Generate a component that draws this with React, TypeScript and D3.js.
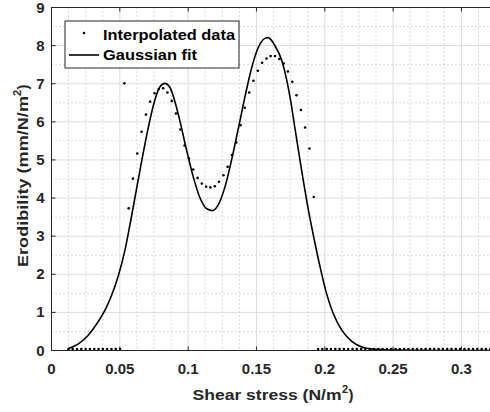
import React from 'react';
import * as d3 from 'd3';

// Interpolated data (scatter points)
const dataX = [
  0.0124, 0.0155, 0.0187, 0.0218, 0.025, 0.0281, 0.0313, 0.0344, 0.0376, 0.0407, 0.0439, 0.047, 0.0502,
  0.0533, 0.0565, 0.0596, 0.0628, 0.0659, 0.0691, 0.0722, 0.0754, 0.0785, 0.0817, 0.0848, 0.088, 0.0911,
  0.0943, 0.0974, 0.1006, 0.1037, 0.1069, 0.11, 0.1132, 0.1163, 0.1195, 0.1226, 0.1258, 0.1289, 0.1321,
  0.1352, 0.1384, 0.1415, 0.1447, 0.1478, 0.151, 0.1541, 0.1573, 0.1604, 0.1636, 0.1667, 0.1699, 0.173,
  0.1762, 0.1793, 0.1825, 0.1856, 0.1888, 0.1919,
  0.1951, 0.1982, 0.2014, 0.2045, 0.2077, 0.2108, 0.214, 0.2171, 0.2203, 0.2234, 0.2266, 0.2297, 0.2329,
  0.236, 0.2392, 0.2423, 0.2455, 0.2486, 0.2518, 0.2549, 0.2581, 0.2612, 0.2644, 0.2675, 0.2707, 0.2738,
  0.277, 0.2801, 0.2833, 0.2864, 0.2896, 0.2927, 0.2959, 0.299, 0.3022, 0.3053, 0.3085, 0.3116, 0.3148,
  0.3179, 0.3211,
];
const dataY = [
  0, 0, 0, 0, 0, 0, 0, 0, 0, 0, 0, 0, 0,
  6.97, 3.69, 4.47, 5.13, 5.7, 6.15, 6.49, 6.71, 6.82, 6.84, 6.73, 6.51, 6.18,
  5.76, 5.34, 5.0, 4.71, 4.49, 4.34, 4.26, 4.24, 4.27, 4.39, 4.56, 4.78, 5.09,
  5.42, 5.87, 6.33, 6.73, 7.04, 7.3, 7.51, 7.62, 7.69, 7.69, 7.61, 7.49, 7.28,
  7.01, 6.66, 6.27, 5.81, 5.26, 3.99,
  0, 0, 0, 0, 0, 0, 0, 0, 0, 0, 0, 0, 0,
  0, 0, 0, 0, 0, 0, 0, 0, 0, 0, 0, 0, 0,
  0, 0, 0, 0, 0, 0, 0, 0, 0, 0, 0, 0, 0,
  0, 0,
];

// Gaussian fit
const fitX = [
  0.0125, 0.02, 0.0269, 0.0335, 0.04, 0.044, 0.0489, 0.0538, 0.0574, 0.0611, 0.0648, 0.0684, 0.0721,
  0.0757, 0.0794, 0.083, 0.0867, 0.0891, 0.094, 0.0989, 0.1038, 0.1087, 0.1136, 0.118, 0.122, 0.127,
  0.1318, 0.1367, 0.1416, 0.1465, 0.1513, 0.1562, 0.1585, 0.1635, 0.1684, 0.1721, 0.1752, 0.1782,
  0.1813, 0.1843, 0.1875, 0.1928, 0.1965, 0.2014, 0.2062, 0.2123, 0.2197, 0.2282, 0.2379, 0.25, 0.28,
  0.33,
];
const fitY = [
  0.05, 0.18, 0.4, 0.72, 1.12, 1.45, 1.96, 2.64, 3.3, 4.02, 4.74, 5.42, 6.06,
  6.58, 6.92, 7.01, 6.9, 6.68, 6.02, 5.25, 4.55, 4.0, 3.72, 3.67, 3.82, 4.3,
  5.0, 5.82, 6.66, 7.42, 7.95, 8.19, 8.21, 8.0, 7.62, 7.1, 6.52, 5.82,
  5.12, 4.45, 3.78, 2.82, 2.2, 1.48, 0.97, 0.54, 0.24, 0.08, 0.03, 0.01, 0,
  0,
];

const xTicks = [0, 0.05, 0.1, 0.15, 0.2, 0.25, 0.3];
const xTickLabels = ['0', '0.05', '0.1', '0.15', '0.2', '0.25', '0.3'];
const yTicks = [0, 1, 2, 3, 4, 5, 6, 7, 8, 9];
const yTickLabels = ['0', '1', '2', '3', '4', '5', '6', '7', '8', '9'];

const W = 490;
const H = 412;
const L = 51.5;
const R = 494.5;
const T = 7.5;
const B = 350.5;
const FONT = '"Liberation Sans", Arial, Helvetica, sans-serif';

export default function App() {
  const x = d3.scaleLinear().domain([0, 0.3242]).range([L, R]);
  const y = d3.scaleLinear().domain([0, 9]).range([B, T]);

  const xMinor = d3.range(0, 0.33, 0.0125).filter((v) => Math.abs(v / 0.05 - Math.round(v / 0.05)) > 1e-6);
  const yMinor = d3.range(0.5, 9, 1);

  const fitPts: [number, number][] = fitX.map((v, i) => [v, fitY[i]]);
  const line = d3
    .line<[number, number]>()
    .x((d) => x(d[0]))
    .y((d) => y(d[1]))
    .curve(d3.curveMonotoneX);

  return (
    <svg
      width={W}
      height={H}
      style={{ position: 'absolute', left: 0, top: 0, background: '#fff' }}
      fontFamily={FONT}
    >
      <defs>
        <clipPath id="plot">
          <rect x={L} y={T} width={R - L} height={B - T} />
        </clipPath>
      </defs>
      <rect x={0} y={0} width={W} height={H} fill="#fff" />
      {/* minor grid */}
      <g stroke="#b8b8b8" strokeWidth={1} strokeDasharray="1,3">
        {xMinor.map((v, i) => (
          <line key={'xm' + i} x1={x(v)} x2={x(v)} y1={T} y2={B} />
        ))}
        {yMinor.map((v, i) => (
          <line key={'ym' + i} x1={L} x2={R} y1={y(v)} y2={y(v)} />
        ))}
      </g>
      {/* major grid */}
      <g stroke="#dcdcdc" strokeWidth={1}>
        {xTicks.map((v, i) => (
          <line key={'xg' + i} x1={x(v)} x2={x(v)} y1={T} y2={B} />
        ))}
        {yTicks.map((v, i) => (
          <line key={'yg' + i} x1={L} x2={R} y1={y(v)} y2={y(v)} />
        ))}
      </g>
      {/* data */}
      <g clipPath="url(#plot)">
        <path d={line(fitPts) || ''} fill="none" stroke="#000" strokeWidth={1.6} />
      </g>
      <g fill="#000">
        {dataX.map((v, i) => (
          <circle key={'d' + i} cx={x(v)} cy={y(dataY[i]) - 1.5} r={1.3} />
        ))}
      </g>
      {/* axes */}
      <g stroke="#262626" strokeWidth={1} fill="none">
        <line x1={L} x2={R} y1={B} y2={B} />
        <line x1={L} x2={R} y1={T} y2={T} />
        <line x1={L} x2={L} y1={T} y2={B} />
        {xTicks.map((v, i) => (
          <g key={'xt' + i}>
            <line x1={x(v)} x2={x(v)} y1={B} y2={B - 4} />
            <line x1={x(v)} x2={x(v)} y1={T} y2={T + 4} />
          </g>
        ))}
        {yTicks.map((v, i) => (
          <line key={'yt' + i} x1={L} x2={L + 4} y1={y(v)} y2={y(v)} />
        ))}
      </g>
      {/* tick labels */}
      <g fontSize={15} fontWeight="bold" fill="#262626">
        {xTicks.map((v, i) => (
          <text key={'xl' + i} x={x(v)} y={B + 23} textAnchor="middle">
            {xTickLabels[i]}
          </text>
        ))}
        {yTicks.map((v, i) => (
          <text key={'yl' + i} x={L - 7} y={y(v) + 5} textAnchor="end">
            {yTickLabels[i]}
          </text>
        ))}
      </g>
      {/* axis labels */}
      <g fontWeight="bold" fill="#262626">
        <text x={192.5} y={400} fontSize={15} textLength={149} lengthAdjust="spacingAndGlyphs">
          Shear stress (N/m
        </text>
        <text x={342} y={393} fontSize={11}>2</text>
        <text x={348.5} y={400} fontSize={15}>)</text>
        <g transform="translate(27.5, 0) rotate(-90)">
          <text x={-267} y={0} fontSize={15} textLength={171} lengthAdjust="spacingAndGlyphs">
            Erodibility (mm/N/m
          </text>
          <text x={-96} y={-7} fontSize={11}>2</text>
          <text x={-89.5} y={0} fontSize={15}>)</text>
        </g>
      </g>
      {/* legend */}
      <g>
        <rect x={65} y={21} width={174} height={47} fill="#fff" stroke="#262626" strokeWidth={1} />
        <circle cx={84} cy={33} r={1.3} fill="#000" />
        <text x={103} y={40} fontSize={14} fontWeight="bold" fill="#000" textLength={132} lengthAdjust="spacingAndGlyphs">
          Interpolated data
        </text>
        <line x1={69} x2={99} y1={55} y2={55} stroke="#000" strokeWidth={1.6} />
        <text x={103} y={60} fontSize={14} fontWeight="bold" fill="#000" textLength={94} lengthAdjust="spacingAndGlyphs">
          Gaussian fit
        </text>
      </g>
    </svg>
  );
}
